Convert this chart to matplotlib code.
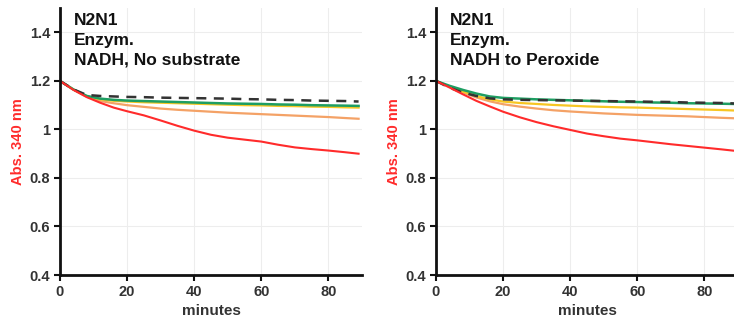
import matplotlib
matplotlib.use('Agg')
import matplotlib.pyplot as plt

# time points (minutes)
minutes = [0, 4, 8, 12, 16, 20, 25, 30, 35, 40, 45, 50, 55, 60, 65, 70, 75, 80, 85, 89]

# panel 1: NADH, no substrate
left_dashed = [1.2, 1.165, 1.142, 1.138, 1.136, 1.134, 1.133, 1.131, 1.130, 1.129,
               1.128, 1.127, 1.125, 1.124, 1.122, 1.121, 1.119, 1.118, 1.117, 1.115]
left_green = [1.2, 1.165, 1.138, 1.127, 1.122, 1.119, 1.117, 1.115, 1.113, 1.111,
              1.109, 1.107, 1.106, 1.105, 1.103, 1.102, 1.100, 1.099, 1.098, 1.097]
left_yellow = [1.2, 1.165, 1.137, 1.124, 1.118, 1.115, 1.112, 1.110, 1.108, 1.106,
               1.104, 1.102, 1.100, 1.099, 1.097, 1.096, 1.094, 1.093, 1.091, 1.090]
left_orange = [1.2, 1.164, 1.135, 1.117, 1.108, 1.100, 1.093, 1.086, 1.081, 1.077,
               1.073, 1.069, 1.066, 1.063, 1.060, 1.057, 1.054, 1.051, 1.047, 1.044]
left_red = [1.2, 1.163, 1.133, 1.110, 1.090, 1.075, 1.058, 1.037, 1.015, 0.995,
            0.978, 0.966, 0.958, 0.950, 0.937, 0.926, 0.919, 0.913, 0.906, 0.900]

# panel 2: NADH to peroxide
right_dashed = [1.2, 1.172, 1.152, 1.138, 1.128, 1.124, 1.122, 1.121, 1.120, 1.119,
                1.118, 1.117, 1.116, 1.115, 1.114, 1.113, 1.111, 1.110, 1.109, 1.107]
right_green = [1.2, 1.180, 1.163, 1.148, 1.136, 1.130, 1.127, 1.124, 1.122, 1.120,
               1.118, 1.116, 1.114, 1.113, 1.111, 1.110, 1.108, 1.107, 1.106, 1.105]
right_yellow = [1.2, 1.177, 1.156, 1.138, 1.124, 1.115, 1.109, 1.105, 1.101, 1.098,
                1.095, 1.093, 1.091, 1.090, 1.088, 1.086, 1.084, 1.082, 1.080, 1.078]
right_orange = [1.2, 1.176, 1.153, 1.132, 1.116, 1.104, 1.094, 1.086, 1.079, 1.074,
                1.070, 1.066, 1.063, 1.060, 1.058, 1.056, 1.054, 1.051, 1.048, 1.046]
right_red = [1.2, 1.173, 1.145, 1.118, 1.095, 1.073, 1.050, 1.030, 1.013, 0.998,
             0.983, 0.972, 0.962, 0.955, 0.947, 0.939, 0.932, 0.925, 0.918, 0.912]

titles = ["N2N1\nEnzym.\nNADH, No substrate", "N2N1\nEnzym.\nNADH to Peroxide"]
yticks = [0.4, 0.6, 0.8, 1.0, 1.2, 1.4]
ytick_labels = ["0.4", "0.6", "0.8", "1", "1.2", "1.4"]
xticks = [0, 20, 40, 60, 80]

plt.rcParams['font.family'] = ['Liberation Sans', 'DejaVu Sans']

fig = plt.figure(figsize=(7.34, 3.2), dpi=100)
ax1 = fig.add_axes([0.0817, 0.1406, 0.4114, 0.834])
ax2 = fig.add_axes([0.5940, 0.1406, 0.4114, 0.834])

panels = [
    (ax1, left_dashed, left_green, left_yellow, left_orange, left_red),
    (ax2, right_dashed, right_green, right_yellow, right_orange, right_red),
]

for i, (ax, dashed, green, yellow, orange, red) in enumerate(panels):
    ax.plot(minutes, orange, color='#f4a266', lw=1.6)
    ax.plot(minutes, yellow, color='#f7c623', lw=1.6)
    ax.plot(minutes, green, color='#1e9e62', lw=1.8)
    ax.plot(minutes, dashed, color='#333333', lw=1.8, ls=(0, (4, 3)))
    ax.plot(minutes, red, color='#ff2b2b', lw=1.5)

    ax.set_xlim(0, 90)
    ax.set_ylim(0.4, 1.5)
    ax.set_yticks(yticks)
    ax.set_yticklabels(ytick_labels)
    ax.set_xticks(xticks)
    ax.grid(True, color='#ededed', lw=0.8)
    ax.set_axisbelow(True)
    for s in ['top', 'right']:
        ax.spines[s].set_visible(False)
    for s in ['left', 'bottom']:
        ax.spines[s].set_linewidth(2)
        ax.spines[s].set_color('#111111')
    ax.tick_params(direction='out', length=4, width=1.5, colors='#111111',
                   labelsize=10.5, labelcolor='#333333', pad=3)
    for lab in ax.get_xticklabels() + ax.get_yticklabels():
        lab.set_fontweight('bold')

    ax.set_xlabel("minutes", fontsize=11, fontweight='bold', color='#333333', labelpad=4)
    ax.set_ylabel("Abs. 340 nm", fontsize=10.5, fontweight='bold', color='#ff2b2b', labelpad=3)
    ax.text(0.045, 0.98, titles[i], transform=ax.transAxes, ha='left', va='top',
            fontsize=12.5, fontweight='bold', color='#111111', linespacing=1.38)

fig.savefig("out.png", dpi=100)
